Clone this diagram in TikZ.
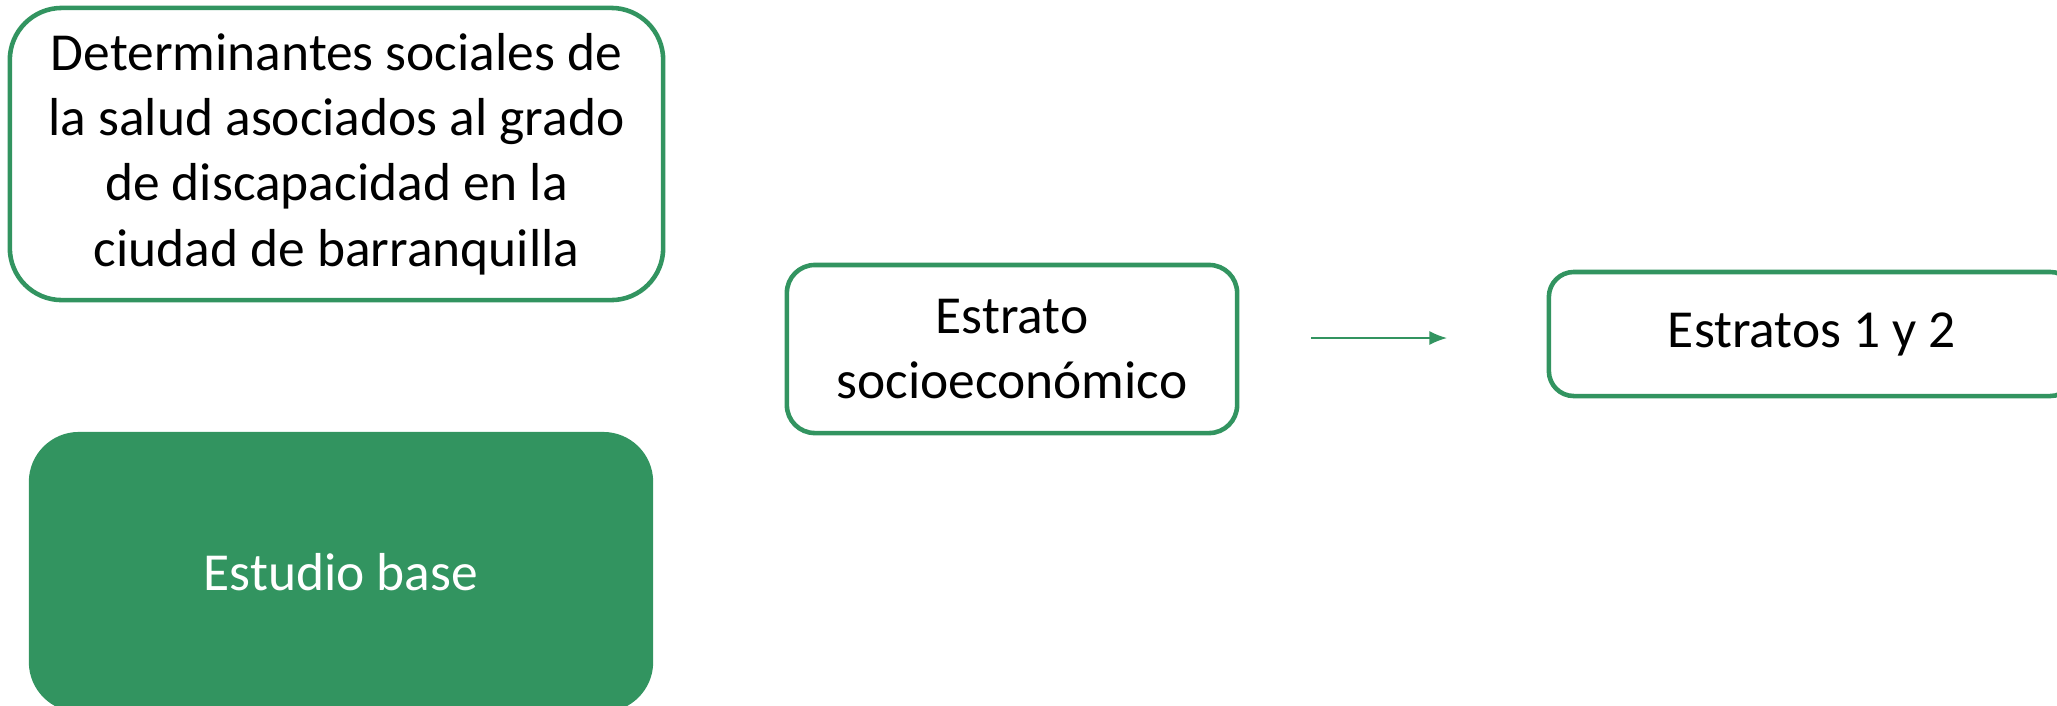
\documentclass[tikz,border=0pt]{standalone}
\usepackage{fontspec}
\setmainfont{Carlito}
\usetikzlibrary{positioning, arrows.meta}
\definecolor{verde}{RGB}{50,148,96}
\tikzset{
  caja/.style={draw=verde, line width=1.3pt, rounded corners=#1, fill=white,
    align=center, inner sep=0pt, font=\fontsize{15.2}{18.6}\selectfont},
  caja/.default=0.3cm,
  flecha/.style={draw=verde, line width=0.5pt, -{Latex[length=5pt, width=4pt]}},
}

\begin{document}
\begin{tikzpicture}[x=0.01cm, y=-0.01cm]
  % area visible (en pixeles de la figura)
  \useasboundingbox (0,0) rectangle (2057,705);

  % titulo
  \node[caja=0.52cm, minimum width=6.53cm, minimum height=2.92cm] (det) at (336.5,154)
    {Determinantes sociales de\\la salud asociados al grado\\de discapacidad en la\\ciudad de barranquilla};

  % estudio base (cortado abajo)
  \node[caja=0.5cm, draw=none, fill=verde, text=white, minimum width=6.24cm,
    minimum height=2.8cm] (base) at (341,572) {Estudio base};

  % variable
  \node[caja=0.28cm, minimum width=4.5cm, minimum height=1.68cm] (estrato) at (1012,349)
    {Estrato\\socioeconómico};

  % categoria (cortada a la derecha)
  \node[caja=0.25cm, minimum width=5.26cm, minimum height=1.24cm] (estratos) at (1812,334)
    {Estratos 1 y 2};

  % flecha suelta entre las dos cajas
  \coordinate (f1) at (1311,338);
  \coordinate (f2) at (1447,338);
  \draw[flecha] (f1) -- (f2);
\end{tikzpicture}
\end{document}
